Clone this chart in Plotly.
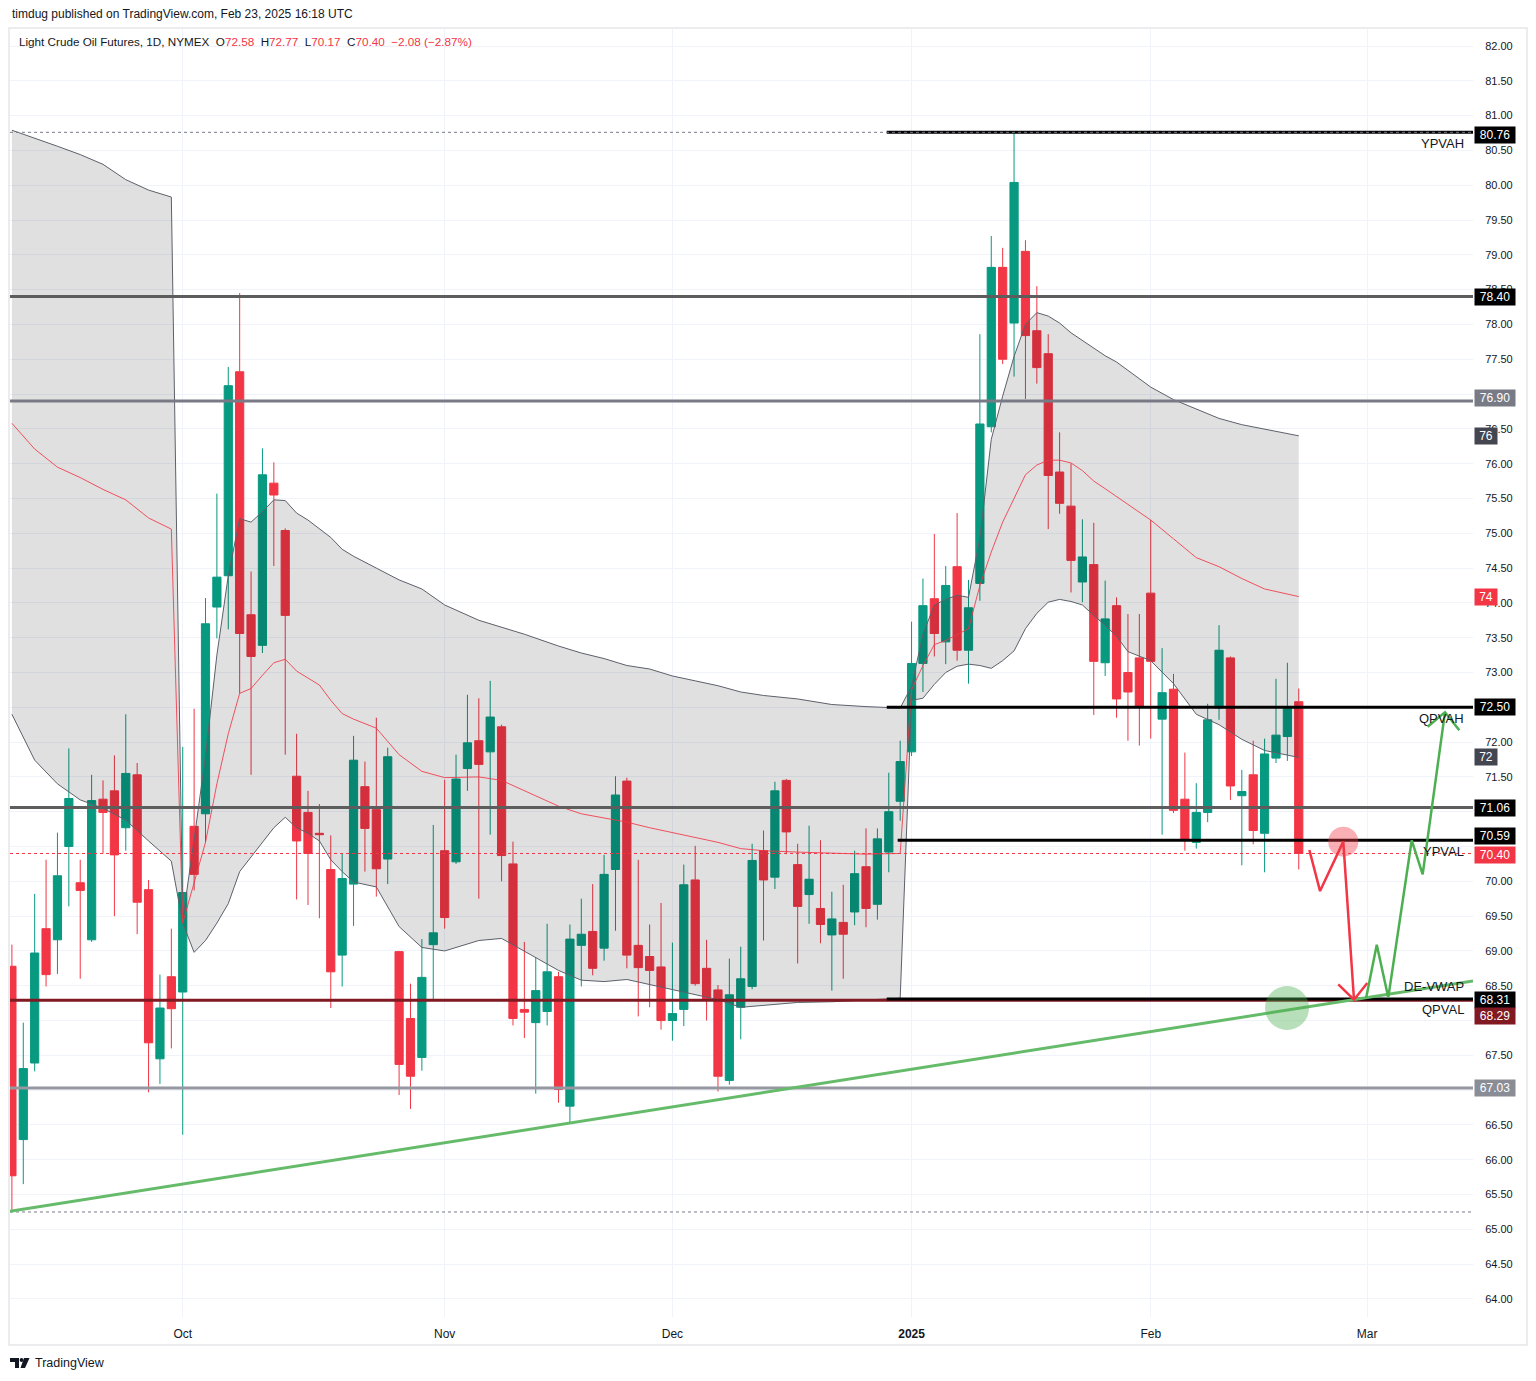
import plotly.graph_objects as go

# ---------------- data ----------------
opens = [68.78, 66.29, 67.39, 69.32, 69.16, 70.50, 69.98, 69.16, 71.18, 71.30,
         70.77, 71.53, 69.88, 67.45, 68.63, 68.41, 70.79, 70.97, 73.94, 74.39,
         77.32, 73.83, 73.39, 75.72, 75.04, 71.51, 70.99, 70.69, 70.17, 68.94,
         69.96, 71.36, 71.03, 70.32, 68.99, 68.03, 67.47, 69.09, 70.44, 70.28,
         71.62, 72.02, 71.86, 72.22, 70.25, 68.16, 67.97, 68.13, 68.63, 66.77,
         69.08, 69.28, 69.04, 70.17, 71.44, 69.08, 68.92, 68.77, 68.00, 68.16,
         70.02, 68.75, 68.44, 67.14, 68.19, 68.49, 70.44, 70.06, 71.45, 70.24,
         69.81, 69.61, 69.23, 69.41, 69.56, 70.21, 69.67, 70.42, 71.15, 71.86,
         73.13, 74.06, 73.44, 74.52, 73.32, 74.28, 76.53, 78.82, 78.02, 79.05,
         77.91, 77.58, 75.88, 75.39, 74.30, 74.55, 73.14, 73.96, 73.00, 73.21,
         74.14, 72.33, 72.76, 71.18, 70.56, 70.99, 72.49, 73.21, 71.23, 71.53,
         70.69, 71.77, 72.08, 72.58]
highs = [69.09, 67.97, 69.82, 70.31, 70.70, 71.91, 70.31, 71.53, 71.45, 71.81,
         72.40, 71.70, 70.02, 68.66, 69.32, 71.93, 72.48, 74.07, 75.57, 77.39,
         78.45, 74.45, 76.22, 76.02, 75.07, 72.12, 71.30, 71.11, 70.66, 70.40,
         72.09, 71.72, 72.35, 71.92, 69.00, 68.53, 69.17, 70.81, 71.46, 71.82,
         72.68, 72.63, 72.88, 72.25, 70.57, 69.13, 68.90, 69.39, 68.70, 69.38,
         69.75, 69.96, 70.38, 71.51, 71.49, 70.31, 69.38, 69.69, 69.12, 70.24,
         70.51, 69.16, 68.51, 68.89, 69.06, 70.54, 70.73, 71.43, 71.47, 70.54,
         70.80, 70.59, 69.85, 69.95, 70.44, 70.76, 70.76, 71.56, 72.02, 73.73,
         74.35, 74.99, 74.53, 75.29, 74.33, 77.86, 79.27, 79.10, 80.76, 79.21,
         78.55, 77.86, 76.45, 76.00, 75.20, 75.15, 74.32, 74.08, 73.84, 73.84,
         75.19, 73.35, 72.98, 71.85, 71.41, 72.55, 73.68, 73.23, 71.60, 72.02,
         72.05, 72.91, 73.14, 72.77]
lows = [65.25, 65.65, 67.27, 68.49, 68.67, 69.64, 68.60, 69.13, 70.40, 69.50,
        70.44, 69.24, 66.97, 67.09, 67.60, 66.36, 69.87, 70.56, 73.49, 73.62,
        72.70, 71.53, 73.28, 74.53, 71.82, 69.74, 69.66, 69.47, 68.18, 68.49,
        69.36, 70.14, 69.78, 69.96, 66.93, 66.73, 67.28, 68.30, 69.32, 70.25,
        71.30, 69.75, 70.67, 70.00, 67.93, 67.75, 66.95, 67.93, 66.82, 66.54,
        68.49, 68.65, 68.86, 69.29, 68.75, 68.06, 68.19, 67.87, 67.71, 67.92,
        68.50, 68.00, 66.98, 67.08, 67.73, 68.45, 69.15, 69.89, 70.39, 68.82,
        69.39, 69.11, 68.43, 68.60, 69.37, 69.34, 69.45, 70.13, 70.87, 71.80,
        72.72, 73.23, 73.12, 73.17, 72.84, 74.03, 76.45, 77.43, 77.25, 76.93,
        77.15, 75.06, 75.28, 74.15, 74.01, 72.39, 72.95, 72.35, 72.02, 71.95,
        72.05, 70.67, 70.98, 70.44, 70.47, 70.85, 72.32, 71.17, 70.23, 70.53,
        70.13, 71.70, 71.73, 70.17]
closes = [65.77, 67.31, 68.97, 68.66, 70.08, 71.19, 69.87, 71.16, 70.99, 70.38,
          71.55, 69.70, 67.68, 68.18, 68.17, 69.84, 70.10, 73.70, 74.37, 77.12,
          73.56, 73.23, 75.84, 75.55, 73.82, 70.58, 70.40, 70.67, 68.70, 70.04,
          71.74, 70.76, 70.18, 71.79, 67.37, 67.20, 68.62, 69.26, 69.48, 71.47,
          71.99, 71.68, 72.36, 70.37, 68.03, 68.12, 68.43, 68.70, 67.01, 69.17,
          69.24, 68.75, 70.10, 71.24, 68.94, 68.76, 68.72, 68.00, 68.10, 69.95,
          68.53, 68.29, 67.20, 68.37, 68.60, 70.30, 70.02, 71.30, 70.71, 69.64,
          70.03, 69.38, 69.46, 69.24, 70.11, 69.61, 70.61, 71.00, 71.72, 73.13,
          73.96, 73.56, 74.25, 73.32, 73.93, 76.57, 78.82, 77.50, 80.04, 77.84,
          77.38, 75.83, 75.43, 74.61, 74.66, 73.16, 73.77, 72.62, 72.72, 72.52,
          73.16, 72.71, 71.02, 70.60, 70.99, 72.32, 73.32, 71.37, 71.29, 70.73,
          71.83, 72.10, 72.48, 70.40]
bar_index = list(range(len(opens)))

month_tick_index = [15, 38, 58, 79, 100, 119]
month_tick_text = ["Oct", "Nov", "Dec", "<b>2025</b>", "Feb", "Mar"]

# price-axis ticks (labels hidden behind price boxes in the reference are blank)
price_ticks = [64.0, 64.5, 65.0, 65.5, 66.0, 66.5, 67.0, 67.5, 68.0, 68.5, 69.0, 69.5,
               70.0, 70.5, 71.0, 71.5, 72.0, 72.5, 73.0, 73.5, 74.0, 74.5, 75.0, 75.5,
               76.0, 76.5, 77.0, 77.5, 78.0, 78.5, 79.0, 79.5, 80.0, 80.5, 81.0, 81.5, 82.0]
hidden_price_ticks = [67.0, 68.0, 70.5, 71.0, 72.5]

# anchored VWAP band (upper / vwap / lower), read at these bar indices
band_index = [0, 2, 4, 6, 8, 10, 12, 14, 15, 16, 17, 18, 19, 20, 21, 22, 23, 24, 25,
              26, 27, 28, 29, 30, 32, 34, 36, 38, 41, 43, 45, 48, 50, 52, 54, 56,
              58, 60, 62, 64, 66, 69, 72, 75, 78, 79, 80, 81, 82, 83, 84, 85, 86,
              87, 88, 89, 90, 91, 92, 93, 94, 95, 96, 97, 98, 100, 102, 104, 106,
              108, 110, 113]
band_upper = [80.79, 80.68, 80.56, 80.44, 80.30, 80.08, 79.93, 79.83, 69.45, 70.60,
              71.80, 73.25, 74.39, 75.21, 75.16, 75.31, 75.48, 75.47, 75.29, 75.19,
              75.06, 74.94, 74.77, 74.67, 74.50, 74.33, 74.20, 73.97, 73.75, 73.65,
              73.55, 73.38, 73.28, 73.20, 73.10, 73.05, 72.95, 72.88, 72.81, 72.72,
              72.67, 72.62, 72.54, 72.51, 72.49, 72.80, 73.55, 73.97, 74.05, 74.11,
              74.08, 74.93, 76.35, 76.97, 77.54, 78.00, 78.17, 78.12, 78.02, 77.88,
              77.77, 77.66, 77.55, 77.46, 77.34, 77.10, 76.92, 76.78, 76.65, 76.56,
              76.50, 76.40]
band_mid = [76.58, 76.21, 75.95, 75.80, 75.63, 75.48, 75.22, 75.06, 69.40, 69.98,
            70.56, 71.40, 72.12, 72.70, 72.77, 72.96, 73.14, 73.19, 73.02, 72.92,
            72.82, 72.60, 72.41, 72.33, 72.20, 71.82, 71.58, 71.49, 71.50, 71.45,
            71.30, 71.08, 70.97, 70.91, 70.85, 70.77, 70.70, 70.64, 70.56, 70.47,
            70.44, 70.42, 70.40, 70.39, 70.40, 72.75, 73.10, 73.40, 73.46, 73.55,
            73.63, 74.25, 74.73, 75.16, 75.50, 75.84, 75.98, 76.05, 76.05, 76.01,
            75.90, 75.75, 75.64, 75.53, 75.41, 75.19, 74.92, 74.65, 74.52, 74.35,
            74.20, 74.09]
band_lower = [72.40, 71.74, 71.40, 71.17, 71.05, 70.88, 70.58, 70.29, 69.40, 68.98,
              69.15, 69.40, 69.68, 70.14, 70.35, 70.56, 70.77, 70.92, 70.77, 70.69,
              70.58, 70.31, 70.14, 69.99, 69.92, 69.35, 69.05, 69.00, 69.15, 69.18,
              69.00, 68.72, 68.58, 68.56, 68.59, 68.52, 68.44, 68.37, 68.30, 68.19,
              68.22, 68.26, 68.27, 68.29, 68.32, 72.60, 72.63, 72.83, 73.00, 73.09,
              73.12, 73.10, 73.06, 73.17, 73.31, 73.63, 73.85, 74.01, 74.05, 74.02,
              73.97, 73.82, 73.68, 73.52, 73.30, 73.17, 72.84, 72.40, 72.25, 72.04,
              71.88, 71.78]

# horizontal levels
full_level_prices = [78.40, 76.90, 71.06, 68.29, 67.03]
partial_level_prices = [80.76, 72.50, 70.59, 68.31]
partial_level_start = [76.82, 76.82, 77.78, 76.82]
range_high = 80.76
range_low = 65.25
last_price = 70.40

level_names = ["YPVAH", "QPVAH", "YPVAL", "QPVAL"]
level_name_prices = [80.76, 72.50, 70.59, 68.31]

# rising trend line (two anchor points)
trend_x = [-0.167, 128.3]
trend_y = [65.26, 68.57]

# projected paths drawn on the chart
red_path_x = [113.93, 114.87, 116.91, 117.85]
red_path_y = [70.45, 69.86, 70.57, 68.30]
red_head_x = [116.47, 117.85, 119.02]
red_head_y = [68.52, 68.30, 68.54]
green_path_x = [118.91, 119.85, 120.86, 122.92, 123.88, 125.84]
green_path_y = [68.32, 69.09, 68.33, 70.59, 70.10, 72.43]
green_head_x = [124.32, 125.84, 127.10]
green_head_y = [72.22, 72.43, 72.17]
red_circle = (116.91, 70.57)
green_circle = (111.97, 68.18)

# ---------------- styling ----------------
UP = "#089981"
DN = "#f23645"
TXT = "#131722"
GRID = "#f0f3fa"
FONT = "Liberation Sans, Arial, sans-serif"
X_RANGE = [-0.167, 128.3]
Y_RANGE = [63.7413, 82.2442]
W, H = 1536, 1381
ML, MR, MT, MB = 10, 63, 29, 64
PW, PH = W - ML - MR, H - MT - MB


def px(xp):
    return (xp - ML) / PW


def py(yp):
    return (H - MB - yp) / PH


fig = go.Figure()

# band fill + lines
fig.add_trace(go.Scatter(x=band_index, y=band_upper, mode="lines",
                         line=dict(color="#5d606b", width=1), hoverinfo="skip", showlegend=False))
fig.add_trace(go.Scatter(x=band_index, y=band_lower, mode="lines",
                         line=dict(color="#5d606b", width=1), fill="tonexty",
                         fillcolor="rgba(0,0,0,0.12)", hoverinfo="skip", showlegend=False))
fig.add_trace(go.Scatter(x=band_index, y=band_mid, mode="lines",
                         line=dict(color="rgba(242,54,69,0.85)", width=1), hoverinfo="skip", showlegend=False))

# candles
fig.add_trace(go.Candlestick(x=bar_index, open=opens, high=highs, low=lows, close=closes,
                             increasing=dict(line=dict(color=UP, width=1), fillcolor=UP),
                             decreasing=dict(line=dict(color=DN, width=1), fillcolor=DN),
                             whiskerwidth=0, showlegend=False, hoverinfo="skip"))

full_colors = ["#5d5d5d", "#787b86", "#5d5d5d", "#801922", "#9598a1"]
for p, col in zip(full_level_prices, full_colors):
    fig.add_trace(go.Scatter(x=X_RANGE, y=[p, p], mode="lines", line=dict(color=col, width=3),
                             hoverinfo="skip", showlegend=False))
for p, s in zip(partial_level_prices, partial_level_start):
    fig.add_trace(go.Scatter(x=[s, X_RANGE[1]], y=[p, p], mode="lines", line=dict(color="#000000", width=3),
                             hoverinfo="skip", showlegend=False))
for p, col, dash in [(range_high, "#787b86", "dot"), (range_low, "#787b86", "dot"), (last_price, DN, "dot")]:
    fig.add_trace(go.Scatter(x=X_RANGE, y=[p, p], mode="lines", line=dict(color=col, width=1, dash=dash),
                             hoverinfo="skip", showlegend=False))

# trend line
fig.add_trace(go.Scatter(x=trend_x, y=trend_y, mode="lines", line=dict(color="#66bb6a", width=3),
                         hoverinfo="skip", showlegend=False))

# circles
fig.add_trace(go.Scatter(x=[green_circle[0]], y=[green_circle[1]], mode="markers",
                         marker=dict(size=44, color="rgba(76,175,80,0.4)", line=dict(width=0)),
                         hoverinfo="skip", showlegend=False))
fig.add_trace(go.Scatter(x=[red_circle[0]], y=[red_circle[1]], mode="markers",
                         marker=dict(size=30, color="rgba(242,54,69,0.4)", line=dict(width=0)),
                         hoverinfo="skip", showlegend=False))

# projected paths
for xs, ys, col in [(red_path_x, red_path_y, "#f23645"), (red_head_x, red_head_y, "#f23645"),
                    (green_path_x, green_path_y, "#4caf50"), (green_head_x, green_head_y, "#4caf50")]:
    fig.add_trace(go.Scatter(x=xs, y=ys, mode="lines", line=dict(color=col, width=2.5),
                             hoverinfo="skip", showlegend=False))

annotations = []

# price-axis boxes
box_specs = [
    (f"{range_high:.2f}", range_high, "#000000", -3, 38),
    (f"{full_level_prices[0]:.2f}", full_level_prices[0], "#000000", 0, 38),
    (f"{full_level_prices[1]:.2f}", full_level_prices[1], "#787b86", 3, 38),
    (f"{round(band_upper[-1])}", band_upper[-1], "#434651", 0, 20),
    (f"{round(band_mid[-1])}", band_mid[-1], DN, 0, 20),
    (f"{partial_level_prices[1]:.2f}", partial_level_prices[1], "#000000", 0, 38),
    (f"{round(band_lower[-1])}", band_lower[-1], "#434651", 0, 20),
    (f"{full_level_prices[2]:.2f}", full_level_prices[2], "#000000", 0, 38),
    (f"{partial_level_prices[2]:.2f}", partial_level_prices[2], "#000000", 4, 38),
    (f"{last_price:.2f}", last_price, DN, -2, 38),
    (f"{partial_level_prices[3]:.2f}", partial_level_prices[3], "#000000", -1, 38),
    (f"{full_level_prices[3]:.2f}", full_level_prices[3], "#801922", -16, 38),
    (f"{full_level_prices[4]:.2f}", full_level_prices[4], "#8a8d96", 0, 38),
]
for text, yv, bg, ysh, w in box_specs:
    annotations.append(dict(xref="paper", yref="y", x=1, y=yv, xanchor="left", yanchor="middle",
                            xshift=1, yshift=ysh, text=text, showarrow=False, bgcolor=bg,
                            font=dict(family=FONT, size=12, color="#ffffff"),
                            width=w, height=14, borderpad=1, align="center"))

# level name labels
for name, p in zip(level_names, level_name_prices):
    annotations.append(dict(xref="paper", yref="y", x=1, y=p, xanchor="right", yanchor="middle",
                            xshift=-7, yshift=-11, text=name, showarrow=False,
                            font=dict(family=FONT, size=13, color=TXT)))
annotations.append(dict(xref="paper", yref="y", x=1, y=trend_y[-1], xanchor="right", yanchor="middle",
                        xshift=-7, yshift=-6, text="DE-VWAP", showarrow=False,
                        font=dict(family=FONT, size=13, color=TXT)))

# header / footer
annotations.append(dict(xref="paper", yref="paper", x=px(10), y=py(14), xanchor="left", yanchor="middle",
                        text="timdug published on TradingView.com, Feb 23, 2025 16:18 UTC",
                        showarrow=False, font=dict(family=FONT, size=12, color=TXT)))
red_span = '<span style="color:#f23645">'
header = ("Light Crude Oil Futures, 1D, NYMEX&nbsp;&nbsp;O" + red_span + f"{opens[-1]:.2f}</span>&nbsp;&nbsp;H"
          + red_span + f"{highs[-1]:.2f}</span>&nbsp;&nbsp;L" + red_span + f"{lows[-1]:.2f}</span>&nbsp;&nbsp;C"
          + red_span + f"{closes[-1]:.2f}&nbsp;&nbsp;−2.08 (−2.87%)</span>")
annotations.append(dict(xref="paper", yref="paper", x=px(17), y=py(42), xanchor="left", yanchor="middle",
                        text=header, showarrow=False, font=dict(family=FONT, size=11.7, color=TXT)))
annotations.append(dict(xref="paper", yref="paper", x=px(33), y=py(1363), xanchor="left", yanchor="middle",
                        text="TradingView", showarrow=False, font=dict(family=FONT, size=12.5, color=TXT)))

shapes = [
    dict(type="rect", xref="paper", yref="paper", x0=px(9), x1=px(1527), y0=py(1345), y1=py(28),
         line=dict(color="#e6e6e9", width=1.5), fillcolor="rgba(0,0,0,0)", layer="below"),
    # TradingView logo
    dict(type="path", xref="paper", yref="paper",
         path=f"M {px(10)} {py(1358)} L {px(19)} {py(1358)} L {px(19)} {py(1368)} L {px(15)} {py(1368)} "
              f"L {px(15)} {py(1362)} L {px(10)} {py(1362)} Z",
         fillcolor="#131722", line=dict(width=0)),
    dict(type="circle", xref="paper", yref="paper", x0=px(19.6), x1=px(23.4), y0=py(1362), y1=py(1358),
         fillcolor="#131722", line=dict(width=0)),
    dict(type="path", xref="paper", yref="paper",
         path=f"M {px(24)} {py(1358)} L {px(29.5)} {py(1358)} L {px(25)} {py(1368)} L {px(20.5)} {py(1368)} Z",
         fillcolor="#131722", line=dict(width=0)),
]

price_tick_text = ["" if t in hidden_price_ticks else f"{t:.2f}" for t in price_ticks]

fig.update_layout(
    width=W, height=H, margin=dict(l=ML, r=MR, t=MT, b=MB),
    paper_bgcolor="#ffffff", plot_bgcolor="#ffffff", showlegend=False,
    font=dict(family=FONT, color=TXT),
    boxgap=0.28, boxgroupgap=0,
    annotations=annotations, shapes=shapes,
    xaxis=dict(range=X_RANGE, tickmode="array", tickvals=month_tick_index, ticktext=month_tick_text,
               showgrid=True, gridcolor=GRID, gridwidth=1, zeroline=False, showline=False,
               ticks="outside", ticklen=6, tickcolor="rgba(0,0,0,0)",
               tickfont=dict(family=FONT, size=12, color=TXT), rangeslider=dict(visible=False)),
    yaxis=dict(range=Y_RANGE, side="right", tickmode="array", tickvals=price_ticks, ticktext=price_tick_text,
               showgrid=True, gridcolor=GRID, gridwidth=1, zeroline=False, showline=False,
               ticks="outside", ticklen=9, tickcolor="rgba(0,0,0,0)",
               tickfont=dict(family=FONT, size=11, color=TXT)),
)

fig.write_html("out.html", config={"displayModeBar": False},
               post_script="document.body.style.margin='0px';document.body.style.overflow='hidden';")
